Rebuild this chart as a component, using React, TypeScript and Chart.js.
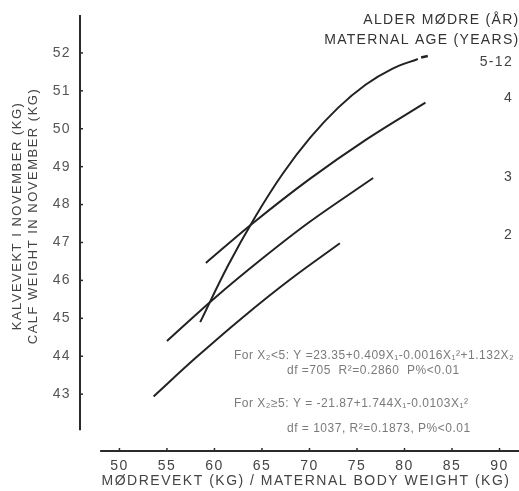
import React, { useEffect, useRef } from 'react';
import { Chart, registerables } from 'chart.js';

Chart.register(...registerables);

// ---- data ----
const maternalWeightAge2 = [53.6, 58, 63, 68, 73.2];
const calfWeightAge2 = [42.94, 43.95, 45.03, 46.03, 46.98];

const maternalWeightAge3 = [55, 60, 65, 70, 76.7];
const calfWeightAge3 = [44.4, 45.53, 46.57, 47.54, 48.7];

const maternalWeightAge4 = [59.1, 64, 70, 76, 82.2];
const calfWeightAge4 = [46.46, 47.5, 48.67, 49.72, 50.69];

const maternalWeightAge5to12 = [58.5, 61.4, 64.3, 67.2, 70.1, 73.0, 75.9, 78.7, 81.4];
const calfWeightAge5to12 = [44.9, 46.38, 47.68, 48.82, 49.77, 50.55, 51.16, 51.58, 51.84];

const maternalWeightTail = [81.75, 82.45];
const calfWeightTail = [51.88, 51.92];

const ageLabels = ['2', '3', '4', '5-12'];
const ageLabelCalf = [47.2, 48.72, 50.8, 51.75];

const xTickValues = [50, 55, 60, 65, 70, 75, 80, 85, 90];
const yTickValues = [43, 44, 45, 46, 47, 48, 49, 50, 51, 52];

const legendTitle = ['ALDER MØDRE (ÅR)', 'MATERNAL AGE (YEARS)'];
const yTitle = ['KALVEVEKT I NOVEMBER (KG)', 'CALF WEIGHT IN NOVEMBER (KG)'];
const xTitle = 'MØDREVEKT (KG) / MATERNAL BODY WEIGHT (KG)';
const notes = [
  'For X₂<5: Y =23.35+0.409X₁-0.0016X₁²+1.132X₂',
  'df =705  R²=0.2860  P%<0.01',
  'For X₂≥5: Y = -21.87+1.744X₁-0.0103X₁²',
  'df = 1037, R²=0.1873, P%<0.01',
];

const toPoints = (xs: number[], ys: number[]) => xs.map((x, i) => ({ x, y: ys[i] }));

const FONT = '"Liberation Sans", Arial, Helvetica, sans-serif';

const decorations = {
  id: 'decorations',
  beforeDraw(chart: any) {
    (chart.ctx as any).letterSpacing = '1.4px';
  },
  afterDraw(chart: any) {
    const ctx = chart.ctx;
    const xs = chart.scales.x;
    const ys = chart.scales.y;
    ctx.save();
    // axis lines
    ctx.strokeStyle = '#2a2a2a';
    ctx.lineWidth = 2;
    ctx.beginPath();
    ctx.moveTo(xs.left, ys.getPixelForValue(53));
    ctx.lineTo(xs.left, ys.getPixelForValue(42.05));
    ctx.stroke();
    ctx.beginPath();
    ctx.moveTo(xs.getPixelForValue(47.97), ys.bottom);
    ctx.lineTo(xs.right, ys.bottom);
    ctx.stroke();
    // tick marks
    ctx.lineWidth = 1.5;
    ys.ticks.forEach((t: any) => {
      const p = ys.getPixelForValue(t.value);
      ctx.beginPath();
      ctx.moveTo(xs.left, p);
      ctx.lineTo(xs.left + 3, p);
      ctx.stroke();
    });
    xs.ticks.forEach((t: any) => {
      const p = xs.getPixelForValue(t.value);
      ctx.beginPath();
      ctx.moveTo(p, ys.bottom);
      ctx.lineTo(p, ys.bottom - 3);
      ctx.stroke();
    });

    // axis titles
    (ctx as any).letterSpacing = '1.5px';
    ctx.fillStyle = '#444';
    ctx.font = `13px ${FONT}`;
    ctx.textAlign = 'center';
    ctx.textBaseline = 'middle';
    ctx.save();
    ctx.translate(17, 216);
    ctx.rotate(-Math.PI / 2);
    ctx.fillText(yTitle[0], 0, 0);
    ctx.fillText(yTitle[1], 0, 16);
    ctx.restore();

    ctx.font = `14px ${FONT}`;
    ctx.fillText(xTitle, 306, 481);

    // legend
    (ctx as any).letterSpacing = '1.3px';
    ctx.fillStyle = '#333';
    ctx.textAlign = 'right';
    ctx.font = `14px ${FONT}`;
    ctx.fillText(legendTitle[0], 519.5, 20);
    ctx.fillText(legendTitle[1], 519.5, 40);
    ctx.fillStyle = '#444';
    ageLabels.forEach((lab, i) => {
      ctx.fillText(lab, 513, ys.getPixelForValue(ageLabelCalf[i]));
    });

    // regression notes
    (ctx as any).letterSpacing = '0.5px';
    ctx.fillStyle = '#7a7a7a';
    ctx.font = `12px ${FONT}`;
    ctx.textAlign = 'left';
    ctx.fillText(notes[0], 234, 356);
    ctx.fillText(notes[1], 287, 371);
    ctx.fillText(notes[2], 234, 404);
    ctx.fillText(notes[3], 287, 429);

    (ctx as any).letterSpacing = '0px';
    ctx.restore();
  },
};

export default function App() {
  const canvasRef = useRef<HTMLCanvasElement | null>(null);

  useEffect(() => {
    if (!canvasRef.current) return;
    const lineStyle = {
      borderColor: '#222',
      borderWidth: 2,
      pointRadius: 0,
      fill: false,
      tension: 0.35,
    };
    const chart = new Chart(canvasRef.current, {
      type: 'line',
      data: {
        datasets: [
          { label: '2', data: toPoints(maternalWeightAge2, calfWeightAge2), ...lineStyle },
          { label: '3', data: toPoints(maternalWeightAge3, calfWeightAge3), ...lineStyle },
          { label: '4', data: toPoints(maternalWeightAge4, calfWeightAge4), ...lineStyle },
          { label: '5-12', data: toPoints(maternalWeightAge5to12, calfWeightAge5to12), ...lineStyle },
          { label: '5-12 end', data: toPoints(maternalWeightTail, calfWeightTail), ...lineStyle, borderWidth: 2.5 },
        ],
      },
      options: {
        animation: false,
        responsive: true,
        maintainAspectRatio: false,
        layout: { padding: { top: 15, left: 0, right: 0, bottom: 0 } },
        plugins: { legend: { display: false }, tooltip: { enabled: false }, title: { display: false } },
        scales: {
          x: {
            type: 'linear',
            min: 45.85,
            max: 92.05,
            grid: { display: false, drawTicks: false },
            border: { display: false },
            ticks: {
              font: { size: 14, family: FONT },
              color: '#444',
              padding: 7,
              maxRotation: 0,
              autoSkip: false,
            },
            afterBuildTicks: (scale: any) => {
              scale.ticks = xTickValues.map((v) => ({ value: v }));
            },
            afterFit: (scale: any) => {
              scale.height = 40;
              scale.paddingLeft = 0;
              scale.paddingRight = 0;
            },
          },
          y: {
            type: 'linear',
            min: 41.5,
            max: 53.0,
            grid: { display: false, drawTicks: false },
            border: { display: false },
            ticks: {
              font: { size: 14, family: FONT },
              color: '#555',
              padding: 9,
              autoSkip: false,
            },
            afterBuildTicks: (scale: any) => {
              scale.ticks = yTickValues.map((v) => ({ value: v }));
            },
            afterFit: (scale: any) => {
              scale.width = 80;
              scale.paddingTop = 0;
              scale.paddingBottom = 0;
            },
          },
        },
      },
      plugins: [decorations],
    });
    return () => chart.destroy();
  }, []);

  return (
    <div style={{ position: 'absolute', left: 0, top: 0, width: 519, height: 491, background: '#fff' }}>
      <canvas ref={canvasRef} />
    </div>
  );
}
